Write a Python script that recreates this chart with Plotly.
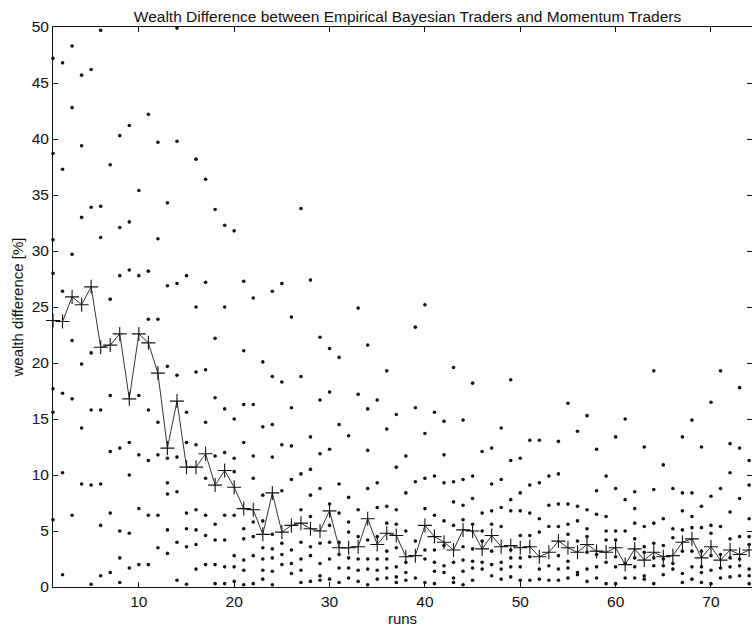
import plotly.graph_objects as go

# Run index (x axis)
runs = list(range(1, 75))

# Mean wealth difference per run (line with + markers), in %
mean_diff = [
    23.8, 23.7, 25.9, 25.2, 26.8, 21.4, 21.6, 22.6, 16.8, 22.6,
    21.8, 19.1, 12.4, 16.6, 10.7, 10.7, 11.9, 9.1, 10.4, 8.9,
    7.0, 6.9, 4.7, 8.4, 4.9, 5.5, 5.7, 5.2, 5.0, 6.8,
    3.5, 3.5, 3.6, 6.1, 3.8, 4.8, 4.6, 2.7, 2.8, 5.5,
    4.5, 4.0, 3.3, 5.1, 5.0, 3.4, 4.6, 3.6, 3.7, 3.5,
    3.6, 2.7, 3.1, 4.1, 3.5, 3.1, 3.8, 3.2, 3.1, 3.5,
    2.0, 3.4, 2.4, 3.1, 2.7, 2.8, 4.0, 4.3, 2.6, 3.6,
    2.4, 3.3, 2.9, 3.3,
]

# Individual simulation outcomes for each run, in %
samples = [
    [47.2, 38.7, 31.0, 28.0, 17.7, 15.6, 6.0],            # 1
    [46.8, 37.3, 26.4, 17.3, 10.2, 1.1],                   # 2
    [48.3, 42.8, 29.7, 22.0, 16.8, 6.4],                   # 3
    [45.7, 39.4, 33.0, 19.9, 14.2, 9.2],                   # 4
    [46.2, 33.9, 20.9, 15.8, 9.1, 0.25],                   # 5
    [49.7, 34.0, 31.2, 15.8, 9.2, 5.5, 1.0],               # 6
    [37.7, 25.7, 17.1, 12.1, 6.6, 1.3],                    # 7
    [40.3, 32.1, 27.8, 12.4, 5.0, 2.6, 0.4],               # 8
    [41.2, 32.6, 28.3, 12.9, 10.0, 4.8, 1.7],              # 9
    [35.4, 27.8, 17.1, 11.8, 7.0, 2.0],                    # 10
    [42.2, 28.2, 23.9, 15.8, 11.3, 6.4, 2.0],              # 11
    [39.7, 31.1, 23.9, 14.7, 11.8, 6.4, 3.5],              # 12
    [34.3, 26.9, 19.7, 11.5, 9.3, 8.3, 5.1, 3.0],          # 13
    [49.9, 39.8, 27.1, 18.9, 11.6, 8.5, 4.0, 0.6],         # 14
    [27.8, 15.6, 12.9, 6.6, 5.2, 3.6, 0.24],               # 15
    [38.2, 25.0, 19.2, 12.7, 6.9, 5.1, 3.8, 1.6],          # 16
    [36.4, 27.2, 19.4, 14.7, 9.7, 6.4, 4.6, 2.0],          # 17
    [33.7, 22.2, 16.9, 11.7, 5.6, 4.2, 2.0, 0.3],          # 18
    [32.3, 25.0, 15.9, 12.0, 6.4, 4.2, 1.8, 0.3],          # 19
    [31.8, 15.0, 11.5, 10.3, 6.4, 2.8, 1.8, 0.5],          # 20
    [27.3, 21.1, 16.3, 12.9, 5.2, 4.3, 2.4, 1.5, 0.2],     # 21
    [25.8, 16.3, 11.7, 9.7, 5.8, 4.5, 2.8, 0.3],           # 22
    [20.1, 14.3, 8.2, 5.9, 3.5, 2.5, 1.5, 0.7],            # 23
    [26.4, 18.8, 14.5, 11.6, 4.7, 3.4, 2.6, 1.4, 0.2],     # 24
    [27.1, 18.3, 12.7, 8.6, 3.9, 2.9, 2.0],                # 25
    [24.1, 16.0, 12.6, 9.6, 3.3, 2.1, 1.2],                # 26
    [33.8, 18.8, 10.1, 6.9, 4.0, 2.5, 1.5, 0.4],           # 27
    [27.4, 13.4, 10.5, 8.2, 6.3, 3.6, 2.8, 0.5],           # 28
    [22.3, 16.7, 11.9, 8.8, 3.9, 2.1, 1.0, 0.6],           # 29
    [21.3, 17.4, 12.3, 7.4, 5.5, 4.0, 2.5, 0.7],           # 30
    [20.5, 14.5, 9.2, 6.6, 4.0, 2.9, 1.7, 0.4],            # 31
    [13.5, 8.0, 5.8, 4.9, 2.6, 1.7, 0.8],                  # 32
    [24.9, 17.2, 6.9, 4.5, 2.5, 1.5, 0.5],                 # 33
    [21.6, 15.9, 12.2, 8.8, 4.2, 2.5, 1.6, 0.2],           # 34
    [16.7, 9.3, 7.1, 4.5, 2.5, 1.5, 0.7],                  # 35
    [19.3, 14.1, 7.2, 5.7, 3.2, 2.5, 1.7, 0.8],            # 36
    [15.4, 10.7, 6.9, 5.6, 3.5, 1.8, 0.9, 0.4],            # 37
    [11.7, 8.4, 5.0, 2.2, 1.3, 0.6],                       # 38
    [23.2, 16.0, 9.4, 4.1, 0.8],                           # 39
    [25.2, 13.7, 9.7, 7.0, 3.3, 2.5, 0.4],                 # 40
    [15.6, 9.9, 6.4, 3.3, 2.2, 1.4, 0.3],                  # 41
    [14.8, 11.8, 9.3, 5.9, 3.7, 1.9, 1.3],                 # 42
    [19.6, 9.4, 7.6, 5.5, 2.2, 0.8, 0.4],                  # 43
    [14.9, 9.6, 7.3, 6.0, 3.6, 2.4, 1.4, 0.2],             # 44
    [18.2, 9.9, 7.9, 5.6, 3.4, 2.3, 1.7, 0.6],             # 45
    [12.1, 6.6, 5.0, 4.1, 2.2, 1.6],                       # 46
    [12.4, 9.2, 6.8, 5.6, 3.2, 2.0, 1.0],                  # 47
    [14.2, 9.6, 7.1, 5.4, 2.2, 1.6, 0.7],                  # 48
    [18.5, 11.3, 7.8, 6.8, 3.3, 2.6, 1.8, 0.9],            # 49
    [11.5, 8.4, 6.8, 4.6, 2.6, 1.8, 0.6],                  # 50
    [13.1, 9.1, 6.6, 4.6, 2.7, 0.6],                       # 51
    [13.1, 9.3, 6.1, 4.9, 1.6, 0.7],                       # 52
    [9.9, 7.3, 5.4, 1.9, 0.6],                             # 53
    [13.0, 10.1, 7.4, 5.4, 2.8, 1.6, 0.6],                 # 54
    [16.4, 7.4, 5.6, 4.7, 2.3, 1.7, 0.8],                  # 55
    [13.9, 7.2, 5.9, 4.1, 1.3, 1.1],                       # 56
    [15.3, 6.9, 5.2, 4.5, 3.1, 1.6, 0.5],                  # 57
    [12.3, 8.6, 6.5, 2.9, 1.8, 0.8],                       # 58
    [9.9, 6.3, 5.0, 4.2, 2.2, 0.3],                        # 59
    [13.4, 8.8, 5.0, 4.2, 2.7, 1.8, 0.3],                  # 60
    [15.0, 7.8, 5.0, 2.1, 0.8],                            # 61
    [8.5, 7.0, 5.7, 4.3, 2.6, 1.8, 0.8],                   # 62
    [12.5, 5.4, 3.6, 3.1, 1.0, 0.7],                       # 63
    [19.3, 8.7, 5.7, 3.9, 2.6, 1.9, 0.3],                  # 64
    [10.9, 6.1, 3.7, 2.5, 1.9, 1.1],                       # 65
    [8.8, 5.2, 4.4, 2.1, 1.6],                             # 66
    [13.4, 8.4, 6.8, 5.1, 3.2, 1.2, 0.4],                  # 67
    [14.9, 8.4, 6.3, 5.3, 3.2, 1.8, 0.7],                  # 68
    [12.5, 7.2, 5.3, 3.2, 1.8, 1.3, 0.4],                  # 69
    [16.5, 8.1, 5.5, 4.8, 2.8, 1.5, 0.3],                  # 70
    [19.3, 8.8, 5.4, 2.9, 1.7, 0.8],                       # 71
    [12.8, 10.2, 6.7, 4.3, 2.6, 1.8, 0.9],                 # 72
    [17.8, 12.4, 7.9, 4.5, 2.5, 1.9, 1.0],                 # 73
    [11.3, 9.1, 6.1, 4.5, 3.8, 1.6, 1.0, 0.3],             # 74
]

x_ticks = [10, 20, 30, 40, 50, 60, 70]
y_ticks = [0, 5, 10, 15, 20, 25, 30, 35, 40, 45, 50]

# Flatten the per-run samples into scatter coordinates
sx, sy = [], []
for r, vals in zip(runs, samples):
    sx.extend([r] * len(vals))
    sy.extend(vals)

FONT = "Liberation Sans, Arial, Helvetica, sans-serif"
INK = "#111111"

fig = go.Figure()
fig.add_trace(go.Scatter(
    x=sx, y=sy, mode="markers",
    marker=dict(size=3.6, color=INK, line=dict(width=0)),
    cliponaxis=False, showlegend=False,
))
fig.add_trace(go.Scatter(
    x=runs, y=mean_diff, mode="lines+markers",
    line=dict(color="#333333", width=1),
    marker=dict(symbol="cross-thin", size=10, line=dict(width=1.1, color=INK)),
    cliponaxis=False, showlegend=False,
))

axis_common = dict(
    showline=True, linecolor=INK, linewidth=1, mirror="ticks",
    ticks="inside", ticklen=5, tickcolor=INK, tickwidth=1,
    showgrid=False, zeroline=False,
    tickfont=dict(family=FONT, size=15.5, color=INK),
)

fig.update_layout(
    width=752, height=629,
    margin=dict(l=53, r=0, t=27, b=42),
    paper_bgcolor="white", plot_bgcolor="white",
    font=dict(family=FONT, color=INK),
    title=dict(
        text="Wealth Difference between Empirical Bayesian Traders and Momentum Traders",
        font=dict(family=FONT, size=15.5, color=INK),
        x=(128 + 687) / 2 / 752, xanchor="center", y=1 - 16.5 / 629, yanchor="middle",
    ),
    xaxis=dict(
        range=[1, 74.3], tickvals=x_ticks,
        title=dict(text="runs", font=dict(family=FONT, size=15, color=INK), standoff=2),
        **axis_common,
    ),
    yaxis=dict(
        range=[0, 50], tickvals=y_ticks,
        title=dict(text="wealth difference [%]", font=dict(family=FONT, size=15, color=INK), standoff=4),
        **axis_common,
    ),
)

fig.write_html("out.html")
